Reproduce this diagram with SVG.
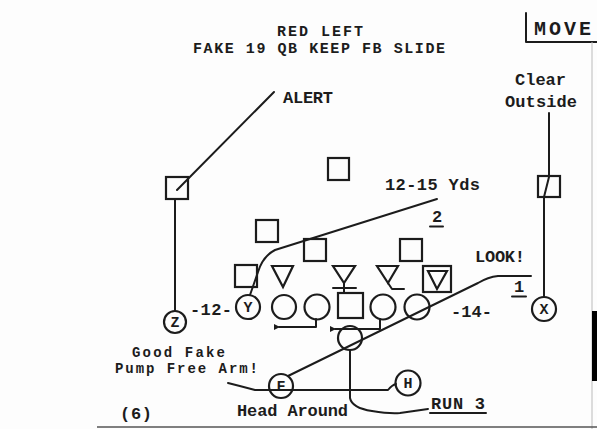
<svg xmlns="http://www.w3.org/2000/svg" width="597" height="429" viewBox="0 0 597 429">
<defs>
<style>
.t{font-family:"Liberation Mono","DejaVu Sans Mono",monospace;font-weight:bold;fill:#1c1c1c;font-size:17px}
.h{font-size:15px}
.s{font-size:14px}
.sh{fill:none;stroke:#1c1c1c;stroke-width:2.2}
.ln{fill:none;stroke:#1c1c1c;stroke-width:2;stroke-linejoin:round;stroke-linecap:round}
.cl{font-family:"Liberation Mono","DejaVu Sans Mono",monospace;font-weight:bold;fill:#1c1c1c;font-size:15px;text-anchor:middle}
</style>
<marker id="ah" viewBox="0 0 6 6" refX="1" refY="3" markerWidth="3" markerHeight="3" orient="auto-start-reverse">
<path d="M6,0 L0,3 L6,6 Z" fill="#1c1c1c"/>
</marker>
</defs>
<rect width="597" height="429" fill="#fdfdfd"/>

<!-- frame marks -->
<g id="frame">
<path d="M526,13 L526,42 L597,42" class="ln"/>
<line x1="592" y1="42" x2="592" y2="429" stroke="#bbb" stroke-width="1"/>
<rect x="592" y="311" width="5" height="70" fill="#000"/>
<line x1="97" y1="427" x2="597" y2="427" stroke="#555" stroke-width="1.5"/>
</g>

<!-- titles and labels -->
<g id="labels">
<text class="t h" x="277" y="36" textLength="86" lengthAdjust="spacing">RED LEFT</text>
<text class="t h" x="193" y="53" textLength="252" lengthAdjust="spacing">FAKE 19 QB KEEP FB SLIDE</text>
<text class="t" x="534" y="35" style="font-size:20px;letter-spacing:3px">MOVE</text>
<text class="t" x="515" y="85" textLength="51" lengthAdjust="spacing">Clear</text>
<text class="t" x="505" y="107" textLength="72" lengthAdjust="spacing">Outside</text>
<text class="t" x="283" y="103" textLength="50" lengthAdjust="spacing">ALERT</text>
<text class="t" x="385" y="190" textLength="95" lengthAdjust="spacing">12-15 Yds</text>
<text class="t" x="432" y="222">2</text>
<line x1="430" y1="226.5" x2="443" y2="226.5" class="ln"/>
<text class="t" x="475" y="262" textLength="50" lengthAdjust="spacing">LOOK!</text>
<text class="t" x="514" y="292">1</text>
<line x1="512" y1="296.5" x2="526" y2="296.5" class="ln"/>
<text class="t" x="451" y="317" textLength="41" lengthAdjust="spacing">-14-</text>
<text class="t" x="190" y="315" textLength="42" lengthAdjust="spacing">-12-</text>
<text class="t s" x="132" y="357" textLength="93" lengthAdjust="spacing">Good Fake</text>
<text class="t s" x="115" y="373" textLength="143" lengthAdjust="spacing">Pump Free Arm!</text>
<text class="t" x="120" y="419" textLength="32" lengthAdjust="spacing">(6)</text>
<text class="t" x="237" y="416" textLength="111" lengthAdjust="spacing">Head Around</text>
<text class="t" x="431" y="409" textLength="54" lengthAdjust="spacing">RUN 3</text>
<line x1="430" y1="413" x2="486" y2="413" class="ln"/>
</g>

<!-- connectors / routes -->
<g id="connectors">
<path class="ln" d="M177,190 L274,92"/>
<path class="ln" d="M175,199 L175,311"/>
<path class="ln" d="M549,113 L549,177 L544,197 L544,297"/>
<path class="ln" d="M250,295 L258,272 Q263,256 275,250 L437,199"/>
<path class="ln" d="M288,376 L478,283 Q488,277 498,276 L531,276"/>
<path class="ln" d="M350,350 L350,398 Q352,408 372,411 Q390,414 400,413 L428,409"/>
<path class="ln" d="M228,383 Q240,386 255,390 L388,390 Q392,385 396,384"/>
<path class="ln" d="M316,319 L316,327 L279,327" marker-end="url(#ah)"/>
<path class="ln" d="M380,319 L380,329 L335,329" marker-end="url(#ah)"/>
<path class="ln" d="M344,283 L344,293 M333,288 L356,288"/>
<path class="ln" d="M388,283 L392,289 L404,289"/>
</g>

<!-- defense -->
<g id="def-z"><rect class="sh" x="166" y="177" width="22" height="22"/></g>
<g id="def-s1"><rect class="sh" x="328" y="158" width="21" height="22"/></g>
<g id="def-x"><rect class="sh" x="538" y="176" width="22" height="21"/></g>
<g id="def-lb1"><rect class="sh" x="256" y="220" width="22" height="22"/></g>
<g id="def-lb2"><rect class="sh" x="304" y="239" width="22" height="22"/></g>
<g id="def-lb3"><rect class="sh" x="400" y="239" width="22" height="22"/></g>
<g id="def-e1"><rect class="sh" x="235" y="265" width="22" height="22"/></g>
<g id="def-t1"><path class="sh" d="M272,266 L293,266 L283,287 Z"/></g>
<g id="def-t2"><path class="sh" d="M333,266 L355,266 L344,283 Z"/></g>
<g id="def-t3"><path class="sh" d="M377,266 L398,266 L388,283 Z"/></g>
<g id="def-e2"><rect class="sh" x="423" y="266" width="28" height="26"/><path class="sh" d="M428,271 L447,271 L437,289 Z"/></g>

<!-- offense -->
<g id="off-z"><circle class="sh" cx="175" cy="322" r="11"/><text class="cl" x="175" y="327">Z</text></g>
<g id="off-y"><circle class="sh" cx="248" cy="307" r="12"/><text class="cl" x="248" y="312">Y</text></g>
<g id="off-lt"><circle class="sh" cx="284" cy="307" r="12"/></g>
<g id="off-lg"><circle class="sh" cx="317" cy="307" r="12.5"/></g>
<g id="off-c"><rect class="sh" x="338" y="293" width="25" height="25"/></g>
<g id="off-rg"><circle class="sh" cx="383" cy="307" r="12.5"/></g>
<g id="off-rt"><circle class="sh" cx="417" cy="307" r="12.5"/></g>
<g id="off-qb"><circle class="sh" cx="350" cy="338" r="12"/></g>
<g id="off-f"><circle class="sh" cx="281" cy="386" r="12"/><text class="cl" x="281" y="391">F</text></g>
<g id="off-h"><circle class="sh" cx="408" cy="383" r="12.5"/><text class="cl" x="408" y="388">H</text></g>
<g id="off-x"><circle class="sh" cx="544" cy="309" r="12"/><text class="cl" x="544" y="314">X</text></g>
</svg>
